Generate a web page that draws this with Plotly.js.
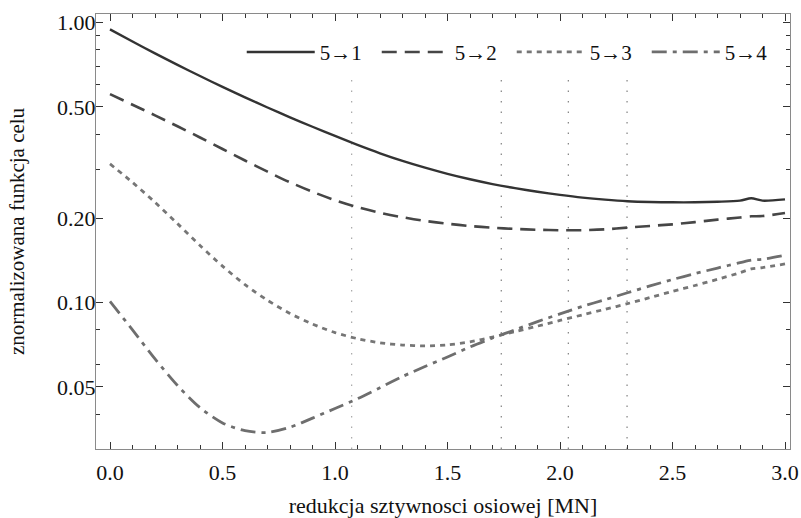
<!DOCTYPE html>
<html>
<head>
<meta charset="utf-8">
<script src="https://cdn.plot.ly/plotly-3.0.1.min.js"></script>
<style>
  html, body { margin: 0; padding: 0; background: #fff; }
  #chart { width: 801px; height: 518px; }
</style>
</head>
<body>
<div id="chart"></div>
<script>
// axial stiffness reduction [MN]
const reduction = [0, 0.1, 0.2, 0.3, 0.4, 0.5, 0.6, 0.7, 0.8, 0.9, 1.0, 1.1, 1.2, 1.3, 1.4, 1.5,
                   1.6, 1.7, 1.8, 1.9, 2.0, 2.1, 2.2, 2.3, 2.4, 2.5, 2.6, 2.7, 2.8, 2.85, 2.9, 3.0];

// normalised objective function for each mode pair
const mode51 = [0.947, 0.857, 0.777, 0.707, 0.645, 0.590, 0.541, 0.498, 0.459, 0.425, 0.394, 0.366,
                0.3417, 0.321, 0.3036, 0.2886, 0.276, 0.2653, 0.2565, 0.249, 0.2427, 0.2374, 0.2334, 0.2304,
                0.2289, 0.2283, 0.2283, 0.2293, 0.2315, 0.236, 0.2315, 0.234];
const mode52 = [0.556, 0.5095, 0.4668, 0.4267, 0.3891, 0.354, 0.3221, 0.2937, 0.2692, 0.2489, 0.2323, 0.2194,
                0.2095, 0.2019, 0.1959, 0.1915, 0.1879, 0.1853, 0.1834, 0.1822, 0.1815, 0.1815, 0.1828, 0.1855,
                0.188, 0.1905, 0.194, 0.198, 0.2015, 0.2035, 0.204, 0.209];
const mode53 = [0.313, 0.2689, 0.2283, 0.1916, 0.1601, 0.1351, 0.116, 0.102, 0.0915, 0.0839, 0.0782, 0.0744,
                0.0719, 0.0706, 0.0701, 0.0707, 0.0725, 0.0754, 0.0788, 0.0825, 0.0864, 0.0905, 0.0947, 0.0992,
                0.1043, 0.1098, 0.1152, 0.1212, 0.128, 0.132, 0.1335, 0.1375];
const mode54 = [0.101, 0.080, 0.063, 0.0506, 0.0422, 0.0372, 0.0349, 0.0344, 0.0359, 0.0387, 0.0419, 0.0454,
                0.0497, 0.0545, 0.0592, 0.064, 0.0695, 0.0748, 0.080, 0.0856, 0.0912, 0.097, 0.1025, 0.1085,
                0.1148, 0.121, 0.127, 0.133, 0.139, 0.142, 0.143, 0.1477];

const seriesNames = ['5\u21921', '5\u21922', '5\u21923', '5\u21924'];

// marked stiffness reductions (vertical reference lines) and their vertical extent
const markedReductions = [1.074, 1.739, 2.037, 2.298];
const markedSpan = [0.03, 0.624];

// axis ticks
const xTicks = [0, 0.5, 1.0, 1.5, 2.0, 2.5, 3.0];
const xTickText = ['0.0', '0.5', '1.0', '1.5', '2.0', '2.5', '3.0'];
const yTicks = [0.05, 0.1, 0.2, 0.5, 1.0];
const yTickText = ['0.05', '0.10', '0.20', '0.50', '1.00'];
const yMinorTicks = [0.04, 0.06, 0.08, 0.3, 0.4, 0.6, 0.7, 0.8, 0.9];

const FONT = 'Liberation Serif';

const styles = [
  { color: '#333333', width: 2.4, dash: 'solid' },
  { color: '#464646', width: 2.6, dash: '15px,8px' },
  { color: '#767676', width: 2.8, dash: '5px,5px' },
  { color: '#6e6e6e', width: 2.8, dash: '15px,6px,4px,6px' }
];

const values = [mode51, mode52, mode53, mode54];
const traces = [];

markedReductions.forEach((xv, i) => {
  traces.push({
    x: [xv, xv], y: markedSpan, mode: 'lines', showlegend: false, hoverinfo: 'skip',
    line: { color: i === 0 ? '#a8a8a8' : '#808080', width: 1.2, dash: '1.5px,9px' }
  });
});

values.forEach((vals, i) => {
  traces.push({
    x: reduction, y: vals, name: seriesNames[i], mode: 'lines',
    line: { color: styles[i].color, width: styles[i].width, dash: styles[i].dash, shape: 'spline', smoothing: 0.8 }
  });
});

const layout = {
  width: 801, height: 518,
  margin: { l: 96, r: 11, t: 14, b: 69 },
  paper_bgcolor: '#ffffff', plot_bgcolor: '#ffffff',
  font: { family: FONT, size: 20, color: '#000' },
  showlegend: true,
  legend: {
    orientation: 'h', x: 0.21, xanchor: 'left', y: 0.912, yanchor: 'middle',
    bgcolor: 'rgba(0,0,0,0)', font: { family: FONT, size: 21, color: '#111' },
    itemwidth: 68, entrywidth: 52, tracegroupgap: 0
  },
  xaxis: {
    range: [-0.0622, 3.0222], showgrid: false, zeroline: false,
    showline: true, linecolor: '#8a8a8a', linewidth: 1.2, mirror: 'allticks',
    ticks: 'inside', ticklen: 7, tickcolor: '#333', tickwidth: 1, ticklabelstandoff: 3,
    tickvals: xTicks, ticktext: xTickText, tickfont: { family: FONT, size: 22, color: '#111' },
    minor: { dtick: 0.1, tick0: 0, ticks: 'inside', ticklen: 4, tickcolor: '#333', tickwidth: 1, showgrid: false },
    title: { text: 'redukcja sztywnosci osiowej [MN]', font: { family: FONT, size: 22, color: '#111' }, standoff: 24 }
  },
  yaxis: {
    type: 'log', range: [-1.5225, 0.0311], showgrid: false, zeroline: false,
    showline: true, linecolor: '#8a8a8a', linewidth: 1.2, mirror: 'allticks',
    ticks: 'inside', ticklen: 7, tickcolor: '#333', tickwidth: 1, ticklabelstandoff: -5,
    tickvals: yTicks, ticktext: yTickText, tickfont: { family: FONT, size: 22, color: '#111' },
    minor: { tickmode: 'array', tickvals: yMinorTicks, ticks: 'inside', ticklen: 4, tickcolor: '#333', tickwidth: 1, showgrid: false },
    title: { text: 'znormalizowana funkcja celu', font: { family: FONT, size: 21, color: '#111' }, standoff: 26 }
  }
};

Plotly.newPlot('chart', traces, layout, { staticPlot: true, displayModeBar: false });
</script>
</body>
</html>
